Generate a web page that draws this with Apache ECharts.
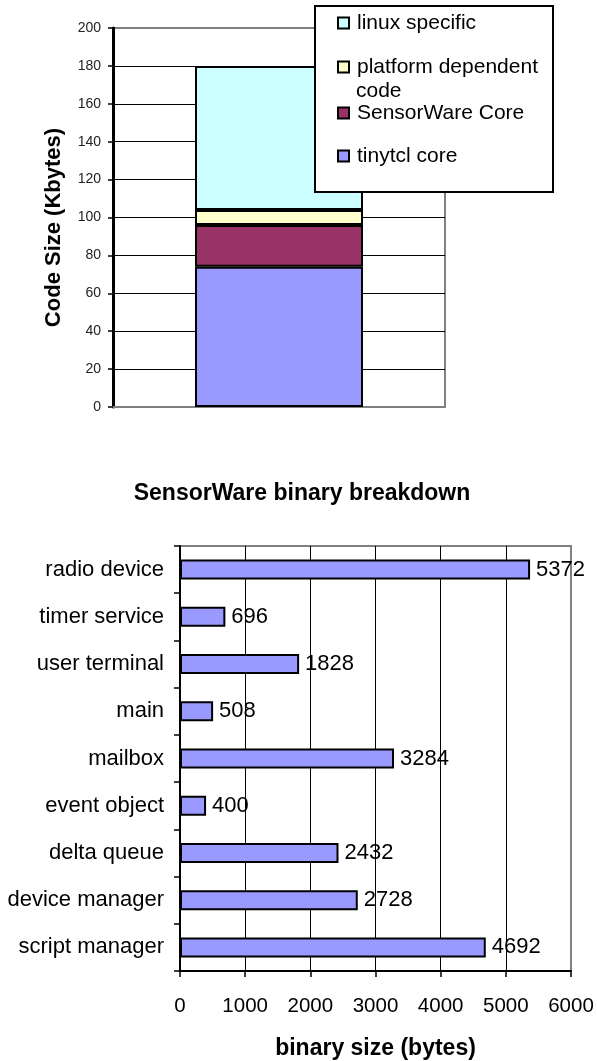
<!DOCTYPE html>
<html>
<head>
<meta charset="utf-8">
<script src="https://cdn.jsdelivr.net/npm/echarts@6/dist/echarts.min.js"></script>
<style>
html,body{margin:0;padding:0;background:#fff;}
#chart{width:597px;height:1061px;}
</style>
</head>
<body>
<div id="chart"></div>
<script>
// ---- top chart data (Kbytes) ----
const topCategories = [''];
const tinytclCore = [74];
const sensorWareCore = [22];
const platformDependentCode = [8];
const linuxSpecific = [76];
const topSeriesNames = ['tinytcl core', 'SensorWare Core', 'platform dependent code', 'linux specific'];

// ---- bottom chart data (bytes) ----
const binaryTitle = 'SensorWare binary breakdown';
const components = ['radio device', 'timer service', 'user terminal', 'main', 'mailbox',
  'event object', 'delta queue', 'device manager', 'script manager'];
const binarySizes = [5372, 696, 1828, 508, 3284, 400, 2432, 2728, 4692];

const FONT = '"Liberation Sans", Arial, sans-serif';
const chart = echarts.init(document.getElementById('chart'), null, { renderer: 'canvas' });

const topColors = ['#9999FF', '#993366', '#FFFFCC', '#CCFFFF'];
const topData = [tinytclCore, sensorWareCore, platformDependentCode, linuxSpecific];

const legendTops = [144, 101, 55, 11];
const legends = topSeriesNames.map((n, i) => ({
  data: [{ name: n, icon: 'rect' }],
  left: 337,
  top: legendTops[i],
  padding: 0,
  itemWidth: 11,
  itemHeight: 11,
  z: 20,
  selectedMode: false,
  formatter: (name) => name === 'platform dependent code' ? 'platform dependent' : name,
  itemStyle: { borderColor: '#000', borderWidth: 2 },
  textStyle: { fontFamily: FONT, fontSize: 21, color: '#000', lineHeight: 24, padding: [0, 0, 0, 3] }
}));

const option = {
  animation: false,
  backgroundColor: '#fff',
  title: {
    text: binaryTitle,
    left: 302, top: 482, textAlign: 'center', padding: 0,
    textStyle: { fontFamily: FONT, fontSize: 23, fontWeight: 'bold', color: '#000' }
  },
  legend: legends,
  graphic: [
    { type: 'rect', z: 10, shape: { x: 315, y: 6, width: 238, height: 186 },
      style: { fill: '#fff', stroke: '#000', lineWidth: 2 } },
    { type: 'text', z: 21, left: 356, top: 81,
      style: { text: 'code', font: '21px ' + FONT, fill: '#000' } }
  ],
  grid: [
    { left: 113, top: 28, width: 332, height: 379, show: true, borderColor: '#808080', borderWidth: 2, backgroundColor: 'transparent' },
    { left: 180, top: 546, width: 391, height: 427, show: true, borderColor: '#808080', borderWidth: 2, backgroundColor: 'transparent' }
  ],
  xAxis: [
    { gridIndex: 0, type: 'category', data: topCategories,
      axisLine: { lineStyle: { color: '#808080', width: 2 } },
      axisTick: { show: false }, axisLabel: { show: false } },
    { gridIndex: 1, type: 'value', min: 0, max: 6000, interval: 1000,
      axisLine: { show: true, lineStyle: { color: '#000', width: 2 } },
      axisTick: { show: true, length: 6, lineStyle: { color: '#000', width: 1.5 } },
      axisLabel: { fontFamily: FONT, fontSize: 20.5, color: '#000', margin: 25, formatter: (v) => String(v) },
      splitLine: { show: true, lineStyle: { color: ['#000', '#000', '#000', '#000', '#000', '#000', '#808080'], width: 1 } },
      name: 'binary size (bytes)', nameLocation: 'middle', nameGap: 66,
      nameTextStyle: { fontFamily: FONT, fontSize: 23, fontWeight: 'bold', color: '#000' } }
  ],
  yAxis: [
    { gridIndex: 0, type: 'value', min: 0, max: 200, interval: 20,
      axisLine: { show: true, lineStyle: { color: '#000', width: 3 } },
      axisTick: { show: true, length: 5, lineStyle: { color: '#000', width: 1.5 } },
      axisLabel: { fontFamily: FONT, fontSize: 14, color: '#222', margin: 12 },
      splitLine: { show: true, lineStyle: { color: ['#000', '#000', '#000', '#000', '#000', '#000', '#000', '#000', '#000', '#000', '#808080'], width: 1 } },
      name: 'Code Size (Kbytes)', nameLocation: 'middle', nameGap: 48,
      nameTextStyle: { fontFamily: FONT, fontSize: 22, fontWeight: 'bold', color: '#000', padding: [0, 20, 0, 0] } },
    { gridIndex: 1, type: 'category', data: components, inverse: true,
      axisLine: { show: true, lineStyle: { color: '#000', width: 2 } },
      axisTick: { show: true, length: 6, lineStyle: { color: '#000', width: 1.5 } },
      axisLabel: { fontFamily: FONT, fontSize: 22, color: '#000', margin: 16 },
      splitLine: { show: false } }
  ],
  series: topSeriesNames.map((n, i) => ({
    name: n, type: 'bar', stack: 'code', xAxisIndex: 0, yAxisIndex: 0,
    data: topData[i], barWidth: 168, z: 3,
    itemStyle: { color: topColors[i], borderColor: '#000', borderWidth: 2 }
  })).concat([{
    name: 'binary size', type: 'bar', xAxisIndex: 1, yAxisIndex: 1,
    data: binarySizes, barWidth: 20, z: 3,
    itemStyle: { color: '#9999FF', borderColor: '#000', borderWidth: 2 },
    label: { show: true, position: 'right', distance: 6, fontFamily: FONT, fontSize: 22, color: '#000' }
  }])
};
chart.setOption(option);
</script>
</body>
</html>
